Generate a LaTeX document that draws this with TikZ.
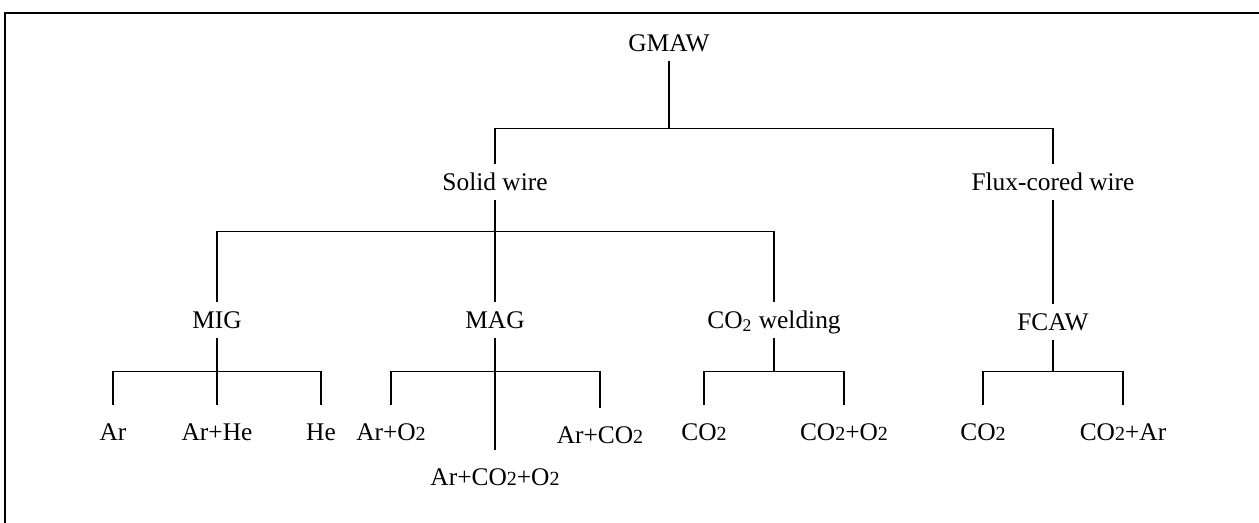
\documentclass[tikz,border=0pt]{standalone}
\usepackage{fontspec}
\setmainfont{Liberation Serif}
\usepackage{tikz}
\usetikzlibrary{positioning}

% 小号的 2（不下沉）
\newcommand{\smtwo}{{\fontsize{10pt}{10pt}\selectfont 2}}

\begin{document}
\begin{tikzpicture}[x=0.5pt, y=-0.5pt,
	every node/.style={font=\fontsize{12.7pt}{14pt}\selectfont, inner sep=0pt, text height=8.4pt, text depth=0pt},
	lvl/.style={minimum height=18pt},
	leaf/.style={minimum height=27pt},
	branch/.style={line width=0.55pt}]
	\useasboundingbox (0,0) rectangle (1259,523);
	% 边框（上、左）
	\draw[line width=1pt] (5,523) -- (5,13) -- (1259,13);
	
	% 第一、二层
	\node[lvl] (gmaw) at (669,43) {GMAW};
	\node[lvl] (solid) at (495,182) {Solid wire};
	\node[lvl] (flux) at (1053,182) {Flux-cored wire};
	
	% 第三层
	\node[lvl] (mig) at (217,320) {MIG};
	\node[lvl] (mag) at (495,320) {MAG};
	\node[lvl] (co2w) at (774,320) {CO\textsubscript{2} welding};
	\node[lvl] (fcaw) at (1053,322) {FCAW};
	
	% 保护气体
	\node[leaf] (ar) at (113,432) {Ar};
	\node[leaf] (arhe) at (217,432) {Ar+He};
	\node[leaf] (he) at (321,432) {He};
	\node[leaf] (aro) at (391,432) {Ar+O\smtwo};
	\node[leaf] (arco) at (600,435) {Ar+CO\smtwo};
	\node[leaf] (arcoo) at (495,477) {Ar+CO\smtwo+O\smtwo};
	\node[leaf] (co) at (704,432) {CO\smtwo};
	\node[leaf] (coo) at (844,432) {CO\smtwo+O\smtwo};
	\node[leaf] (fco) at (983,432) {CO\smtwo};
	\node[leaf] (fcoar) at (1123,432) {CO\smtwo+Ar};
	
	% 连线
	\draw[branch] (gmaw.south) -- ++(0,67) coordinate (b1);
	\draw[branch] (solid.north) |- (b1) -| (flux.north);
	
	\draw[branch] (solid.south) -- (mag.north);
	\draw[branch] (mig.north) -- ++(0,-70) -| (co2w.north);
	\draw[branch] (flux.south) -- (fcaw.north);
	
	\draw[branch] (mig.south) -- (arhe.north);
	\draw[branch] (ar.north) -- ++(0,-33) -| (he.north);
	
	\draw[branch] (mag.south) -- (arcoo.north);
	\draw[branch] (aro.north) -- ++(0,-33) -| (arco.north);
	
	\draw[branch] (co.north) -- ++(0,-33) coordinate (b5) -| (coo.north);
	\draw[branch] (co2w.south) -- (co2w.south |- b5);
	
	\draw[branch] (fco.north) -- ++(0,-33) coordinate (b6) -| (fcoar.north);
	\draw[branch] (fcaw.south) -- (fcaw.south |- b6);
\end{tikzpicture}
\end{document}
